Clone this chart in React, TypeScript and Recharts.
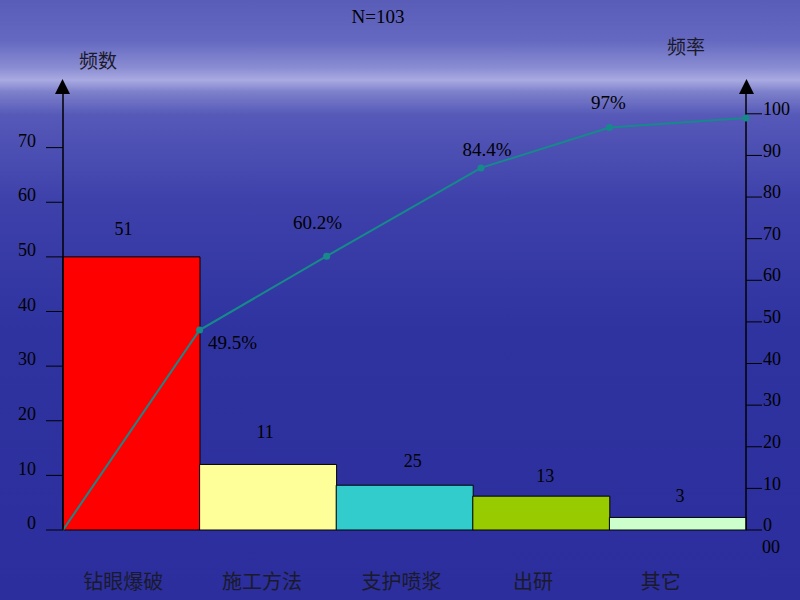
import React from 'react';
import { ComposedChart, Bar, Line, XAxis, YAxis, LabelList, Cell } from 'recharts';

// 类别与数据
const categories = ['钻眼爆破', '施工方法', '支护喷浆', '出研', '其它'];
const barHeights = [50, 12, 8.2, 6.2, 2.3]; // 柱子实际画出的高度
const barLabels = ['51', '11', '25', '13', '3']; // 柱子上标注的文字
const barColors = ['#ff0000', '#ffff99', '#33cccc', '#99cc00', '#ccffcc'];

// 累计频率折线（x 为柱子边界位置）
const cumX = [0, 1, 1.93, 3.06, 4.0, 5];
const cumPct = [0, 48.05, 65.8, 87.0, 96.7, 99.0];
const cumLabels = ['', '49.5%', '60.2%', '84.4%', '97%', ''];

// 标注文字的偏移（布局用）
const cumLabelOffsets = [
  [0, 0],
  [33, 15],
  [-9, -32],
  [6, -16],
  [-1, -23],
  [0, 0],
];
const barLabelOffsets = [
  [-8, -26],
  [-3, -31],
  [8, -22],
  [4, -18],
  [2, -20],
];
const catLabelDx = [-8, -6, -3, -8, -17];

const leftTicks = [0, 10, 20, 30, 40, 50, 60, 70];
const rightTicks = [0, 10, 20, 30, 40, 50, 60, 70, 80, 90, 100];

const FONT = '"Liberation Serif", "Noto Sans CJK SC", serif';
const LINE_COLOR = '#168a8a';

const barData = categories.map((name, i) => ({ name, value: barHeights[i], label: barLabels[i] }));
const lineData = cumX.map((x, i) => ({ x, pct: cumPct[i], label: cumLabels[i] }));

const LeftTick = (props: any) => (
  <text x={props.x - 8} y={props.y - 5} textAnchor="end" dominantBaseline="middle"
    fontFamily={FONT} fontSize={18} fill="#000">
    {props.payload.value}
  </text>
);

const RightTick = (props: any) => (
  <text x={props.x - 1} y={props.y - 3} textAnchor="start" dominantBaseline="middle"
    fontFamily={FONT} fontSize={18} fill="#000">
    {props.payload.value}
  </text>
);

const CatTick = (props: any) => (
  <text x={props.x + (catLabelDx[props.index] || 0)} y={props.y + 46} textAnchor="middle" dominantBaseline="middle"
    fontFamily={FONT} fontSize={20} fill="#1a1a2a">
    {props.payload.value}
  </text>
);

const BarLabel = (props: any) => {
  const [dx, dy] = barLabelOffsets[props.index] || [0, -24];
  return (
    <text x={props.x + props.width / 2 + dx} y={props.y + dy} textAnchor="middle" dominantBaseline="middle"
      fontFamily={FONT} fontSize={18} fill="#000">
      {props.value}
    </text>
  );
};

const PctLabel = (props: any) => {
  if (!props.value) return null;
  const [dx, dy] = cumLabelOffsets[props.index] || [0, -18];
  return (
    <text x={props.x + dx} y={props.y + dy} textAnchor="middle" dominantBaseline="middle"
      fontFamily={FONT} fontSize={19} fill="#000">
      {props.value}
    </text>
  );
};

const PctDot = (props: any) => {
  if (props.index === 0) return null;
  return <circle key={`d-${props.index}`} cx={props.cx} cy={props.cy} r={3.5} fill={LINE_COLOR} />;
};

export default function App() {
  const bg =
    'linear-gradient(180deg, #5a5db8 0px, #6468c0 40px, #8a8dd2 68px, #a9aae2 80px, #7d80ca 92px, #5659b8 115px, #3e41aa 200px, #2f33a0 330px, #2b2e9c 600px)';

  return (
    <div style={{ position: 'fixed', left: 0, top: 0, width: 800, height: 600, background: bg, overflow: 'hidden' }}>
      <ComposedChart
        width={800}
        height={600}
        data={barData}
        margin={{ top: 93, right: 0, bottom: 0, left: 0 }}
        barCategoryGap={0}
      >
        <XAxis xAxisId="cat" dataKey="name" height={70} axisLine={false} tickLine={false} tick={<CatTick />} interval={0} />
        <XAxis xAxisId="num" dataKey="x" type="number" domain={[0, 5]} hide height={0} />
        <YAxis yAxisId="left" width={63} domain={[0, 80]} ticks={leftTicks} tickSize={17}
          axisLine={{ stroke: '#000', strokeWidth: 1.5 }} tickLine={{ stroke: '#000' }} tick={<LeftTick />} />
        <YAxis yAxisId="right" orientation="right" width={54} domain={[0, 105]} ticks={rightTicks} tickSize={16}
          axisLine={{ stroke: '#000', strokeWidth: 1.5 }} tickLine={{ stroke: '#000' }} tick={<RightTick />} />
        <Bar xAxisId="cat" yAxisId="left" dataKey="value" stroke="#000" strokeWidth={1} isAnimationActive={false}>
          {barData.map((d, i) => (
            <Cell key={d.name} fill={barColors[i]} />
          ))}
          <LabelList dataKey="label" content={<BarLabel />} />
        </Bar>
        <Line
          xAxisId="num"
          yAxisId="right"
          data={lineData}
          dataKey="pct"
          type="linear"
          stroke={LINE_COLOR}
          strokeWidth={2}
          dot={<PctDot />}
          isAnimationActive={false}
        >
          <LabelList dataKey="label" content={<PctLabel />} />
        </Line>
      </ComposedChart>

      <svg width={800} height={600} style={{ position: 'absolute', left: 0, top: 0, pointerEvents: 'none' }}>
        <polygon points="55,94 70,94 62.5,79" fill="#000" />
        <polygon points="739,94 754,94 746.5,79" fill="#000" />
        <text x={378} y={19} textAnchor="middle" dominantBaseline="middle" fontFamily={FONT} fontSize={19} fill="#000">N=103</text>
        <text x={98} y={64} textAnchor="middle" dominantBaseline="middle" fontFamily={FONT} fontSize={19} fill="#1a1a2a">频数</text>
        <text x={686} y={50} textAnchor="middle" dominantBaseline="middle" fontFamily={FONT} fontSize={19} fill="#1a1a2a">频率</text>
        <text x={771} y={549} textAnchor="middle" dominantBaseline="middle" fontFamily={FONT} fontSize={18} fill="#000">00</text>
      </svg>
    </div>
  );
}
